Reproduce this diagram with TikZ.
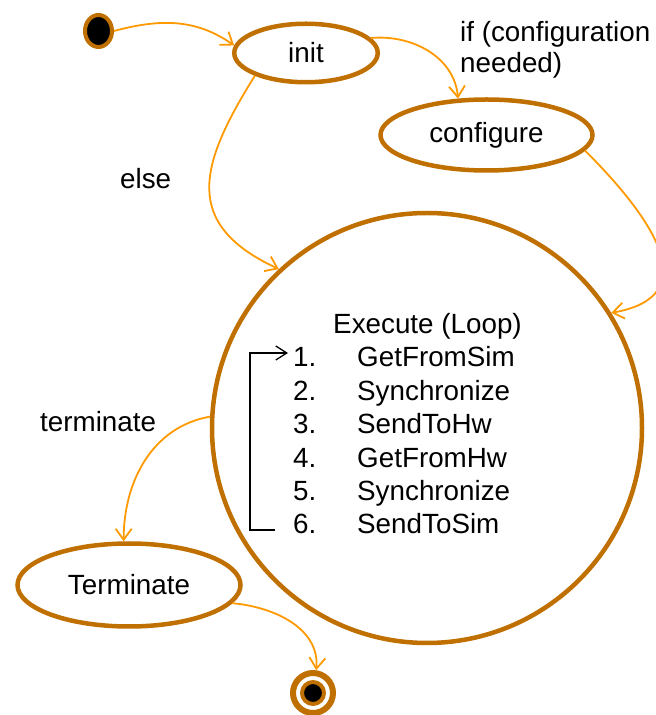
\documentclass[tikz,border=0pt]{standalone}
\usepackage{fontspec}
\setmainfont{Liberation Sans}
\usetikzlibrary{shapes.geometric,arrows.meta}
\definecolor{statebrown}{RGB}{192,112,0}
\definecolor{flow}{RGB}{255,153,0}
\begin{document}
\begin{tikzpicture}[x=1pt,y=1pt,
  font=\fontsize{27.8}{33}\selectfont,
  state/.style={ellipse, draw=statebrown, line width=4.5pt, inner sep=0pt},
  flowarrow/.style={draw=flow, line width=1.8pt,
    -{Straight Barb[length=11pt,width=16pt,line width=1.8pt]}},
  looparrow/.style={draw=black, line width=1.3pt,
    -{Straight Barb[length=11pt,width=14pt,line width=1.3pt]}},
  txt/.style={anchor=base west, inner sep=0pt},
]
\useasboundingbox (0,0) rectangle (656,715);

% states
\node[ellipse, draw=statebrown, fill=black, line width=4pt,
      minimum width=27pt, minimum height=32pt, inner sep=0pt] (start) at (98.5,684) {};
\node[state, minimum width=143.5pt, minimum height=58.5pt] (init) at (306,662) {init};
\node[state, minimum width=212pt, minimum height=71pt] (configure) at (486.5,580) {configure};
\node[circle, draw=statebrown, line width=4.5pt, minimum size=430pt, inner sep=0pt] (execute) at (427,287) {};
\node[state, minimum width=223pt, minimum height=83pt] (terminate) at (129,130) {Terminate};
\node[circle, draw=statebrown, line width=6pt, minimum size=40pt, inner sep=0pt] (final) at (313,22) {};
\node[circle, draw=statebrown, fill=black, line width=4pt, minimum size=22pt, inner sep=0pt] (finaldot) at (313,22) {};

% contents of the execute state
\node[anchor=base, inner sep=0pt] (exechead) at (427.5,381) {Execute (Loop)};
\node[txt] (n1) at (293,348.0) {1.};
\node[txt] (n2) at (293,314.6) {2.};
\node[txt] (n3) at (293,281.2) {3.};
\node[txt] (n4) at (293,247.8) {4.};
\node[txt] (n5) at (293,214.4) {5.};
\node[txt] (n6) at (293,181.0) {6.};
\node[txt] (s1) at (357,348.0) {GetFromSim};
\node[txt] (s2) at (357,314.6) {Synchronize};
\node[txt] (s3) at (357,281.2) {SendToHw};
\node[txt] (s4) at (357,247.8) {GetFromHw};
\node[txt] (s5) at (357,214.4) {Synchronize};
\node[txt] (s6) at (357,181.0) {SendToSim};

\coordinate (loopfrom) at ([shift={(-18,4)}]n6.base west);
\coordinate (loopto) at ([shift={(-5,14)}]n1.base west);
\draw[looparrow] (loopfrom) -- ([xshift=-25]loopfrom) |- (loopto);

% transition labels
\node[txt] (lelse) at (120,526) {else};
\node[txt] (lif1) at (460,673) {if (configuration};
\node[txt] (lif2) at (460,642) {needed)};
\node[txt] (lterm) at (40,283) {terminate};

% transitions
\draw[flowarrow] (start.east) to[out=15, in=145] (init.174);
\draw[flowarrow] (init.13) to[out=5, in=95] (configure.128);
\draw[flowarrow] (init.204) to[out=238, in=155, looseness=1.4] (execute.133);
\draw[flowarrow] (configure.-9) to[out=-45, in=10, looseness=1.5] (execute.32);
\draw[flowarrow] (execute.177) to[out=190, in=90] (terminate.97);
\draw[flowarrow] (terminate.-10) to[out=-5, in=85] (final.82);
\end{tikzpicture}
\end{document}
